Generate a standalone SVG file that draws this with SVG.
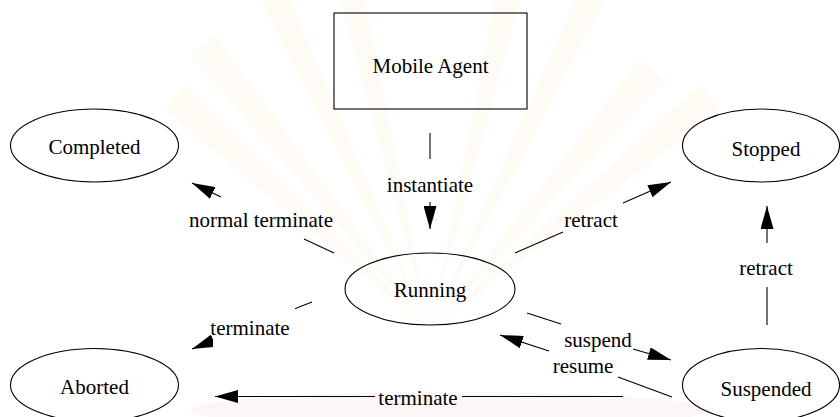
<svg xmlns="http://www.w3.org/2000/svg" width="840" height="417" viewBox="0 0 840 417">
  <style>
    .shape { fill: none; stroke: #000; stroke-width: 1.1; }
    .edge { fill: none; stroke: #000; stroke-width: 1.1; }
    text { font-family: 'Liberation Serif', 'DejaVu Serif', 'Times New Roman', serif; font-size: 21px; fill: #000; text-anchor: middle; }
    .ray { fill: #faf4dc; opacity: 0.35; }
  </style>
  <defs>
    <marker id="head" viewBox="0 0 23 13" refX="23" refY="6.5" markerWidth="23" markerHeight="13" markerUnits="userSpaceOnUse" orient="auto">
      <path d="M0,0 L23,6.5 L0,13 Z" fill="#000"/>
    </marker>
  </defs>

  <rect width="840" height="417" fill="#fff"/>

  <!-- faint backdrop emblem -->
  <g id="backdrop">
    <ellipse cx="450" cy="410" rx="260" ry="18" fill="#fdf6f6"/>
    <polygon class="ray" points="430,330 260,0 290,0"/>
    <polygon class="ray" points="430,330 340,0 365,0"/>
    <polygon class="ray" points="430,330 495,0 520,0"/>
    <polygon class="ray" points="430,330 575,0 605,0"/>
    <polygon class="ray" points="430,330 165,110 185,85"/>
    <polygon class="ray" points="430,330 700,85 720,110"/>
    <polygon class="ray" points="430,330 640,60 665,80"/>
    <polygon class="ray" points="430,330 190,55 215,35"/>
  </g>

  <!-- connectors -->
  <g id="connectors">
    <!-- instantiate -->
    <line class="edge" x1="430" y1="133" x2="430" y2="159"/>
    <line class="edge" x1="430" y1="202" x2="430" y2="229" marker-end="url(#head)"/>
    <!-- normal terminate -->
    <line class="edge" x1="334" y1="253" x2="304" y2="239"/>
    <line class="edge" x1="221" y1="197" x2="192" y2="183" marker-end="url(#head)"/>
    <!-- retract to Stopped -->
    <line class="edge" x1="515" y1="253" x2="563" y2="232"/>
    <line class="edge" x1="623" y1="203" x2="671" y2="182" marker-end="url(#head)"/>
    <!-- retract from Suspended -->
    <line class="edge" x1="767" y1="325" x2="767" y2="287"/>
    <line class="edge" x1="767" y1="243" x2="767" y2="206" marker-end="url(#head)"/>
    <!-- terminate to Aborted (label box overlaps the head) -->
    <line class="edge" x1="312" y1="302" x2="192" y2="349" marker-end="url(#head)"/>
    <rect x="213" y="308" width="82" height="39.5" fill="#fff"/>
    <!-- suspend -->
    <line class="edge" x1="527" y1="313" x2="561" y2="324"/>
    <line class="edge" x1="633" y1="349" x2="671" y2="360" marker-end="url(#head)"/>
    <!-- resume -->
    <line class="edge" x1="672" y1="397" x2="618" y2="377"/>
    <line class="edge" x1="549" y1="351" x2="500" y2="335" marker-end="url(#head)"/>
    <!-- terminate from Suspended -->
    <line class="edge" x1="623" y1="396.5" x2="462" y2="396.5"/>
    <line class="edge" x1="375" y1="396.5" x2="215" y2="396.5" marker-end="url(#head)"/>

    <text x="430" y="192">instantiate</text>
    <text x="261" y="227">normal terminate</text>
    <text x="591" y="227">retract</text>
    <text x="766" y="275">retract</text>
    <text x="250" y="335">terminate</text>
    <text x="598" y="347">suspend</text>
    <text x="583" y="373">resume</text>
    <text x="418" y="405">terminate</text>
  </g>

  <!-- nodes -->
  <g id="mobile-agent">
    <rect class="shape" x="334" y="13" width="193" height="96"/>
    <text x="430.5" y="73">Mobile Agent</text>
  </g>
  <g id="completed">
    <ellipse class="shape" cx="94.5" cy="145.5" rx="84" ry="36.5"/>
    <text x="94.5" y="154">Completed</text>
  </g>
  <g id="stopped">
    <ellipse class="shape" cx="761" cy="145.5" rx="78.5" ry="36.5"/>
    <text x="766" y="156">Stopped</text>
  </g>
  <g id="running">
    <ellipse class="shape" cx="430" cy="289" rx="85" ry="36"/>
    <text x="430" y="297">Running</text>
  </g>
  <g id="aborted">
    <ellipse class="shape" cx="94.5" cy="385" rx="84" ry="36.5"/>
    <text x="94.5" y="394">Aborted</text>
  </g>
  <g id="suspended">
    <ellipse class="shape" cx="761" cy="385" rx="78.5" ry="36.5"/>
    <text x="766" y="396">Suspended</text>
  </g>
</svg>
